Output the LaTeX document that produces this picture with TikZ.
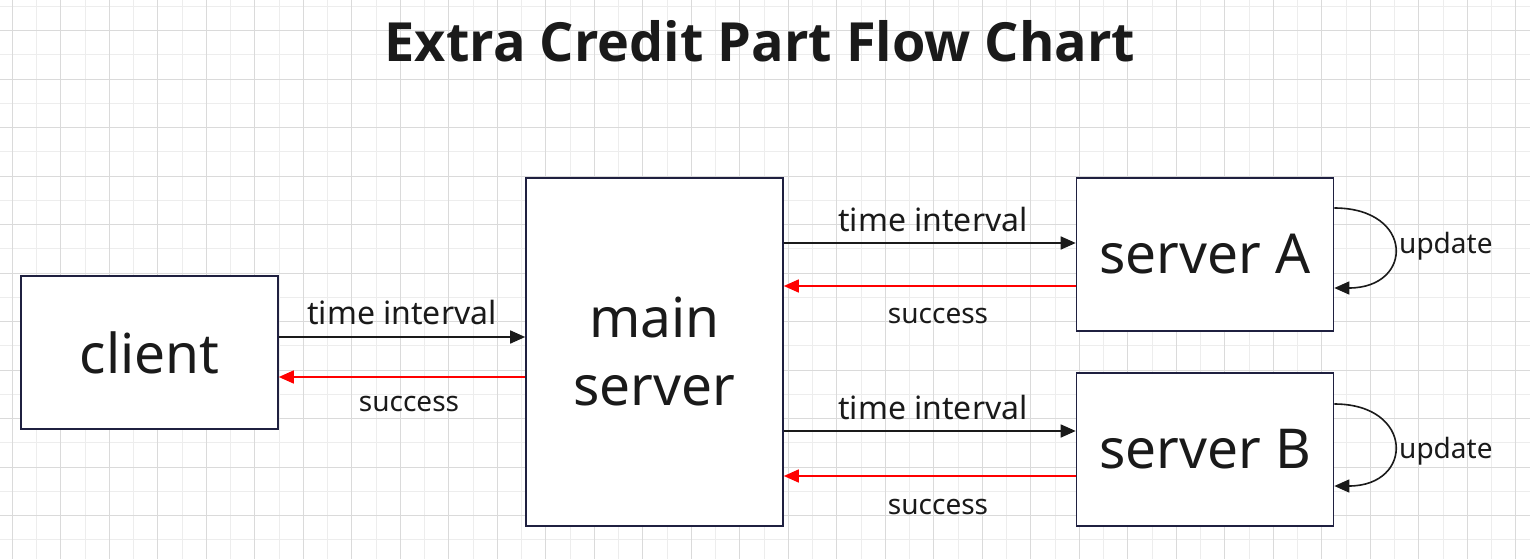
\documentclass[tikz,border=0pt]{standalone}
\usepackage{fontspec}
\setmainfont{Noto Sans}
\newfontfamily\titlefont{Open Sans}
\usetikzlibrary{positioning,arrows.meta}

\definecolor{boxedge}{HTML}{1F2040}
\definecolor{inkblack}{HTML}{1A1A1A}
\definecolor{gridminor}{HTML}{EDEDED}
\definecolor{gridmajor}{HTML}{DADADA}

\tikzset{
    srvbox/.style={rectangle, draw=boxedge, fill=white, line width=1.6pt, inner sep=0pt, align=center, text=inkblack, font=\fontsize{55}{68}\selectfont},
    reqarrow/.style={-{Triangle[length=15pt, width=13pt]}, line width=1.6pt, inkblack},
    ackarrow/.style={-{Triangle[length=15pt, width=13pt]}, line width=1.6pt, red},
    biglabel/.style={anchor=base, inner sep=0pt, text=inkblack, font=\fontsize{32}{36}\selectfont},
    smalllabel/.style={anchor=base, inner sep=0pt, text=inkblack, font=\fontsize{28}{32}\selectfont}
}

\begin{document}
\begin{tikzpicture}[x=1pt, y=-1pt]
        \def\boxw{257}
        \def\boxh{153}

        \useasboundingbox (0, 0) rectangle (1530, 559);
        \fill[white] (0, 0) rectangle (1530, 559);

        % background grid
        \foreach \k in {0,...,62}
            \draw[gridminor, line width=1pt] ({12.3+24.25*\k}, 0) -- ({12.3+24.25*\k}, 559);
        \foreach \k in {0,...,22}
            \draw[gridminor, line width=1pt] (0, {6.3+24.25*\k}) -- (1530, {6.3+24.25*\k});
        \foreach \k in {0,2,...,62}
            \draw[gridmajor, line width=1pt] ({12.3+24.25*\k}, 0) -- ({12.3+24.25*\k}, 559);
        \foreach \k in {1,3,...,21}
            \draw[gridmajor, line width=1pt] (0, {6.3+24.25*\k}) -- (1530, {6.3+24.25*\k});

        \node[anchor=base, inner sep=0pt, text=inkblack, font=\titlefont\fontsize{54}{60}\selectfont\bfseries] (title) at (760, 62) {Extra Credit Part Flow Chart};

        \node[srvbox, minimum width=\boxw, minimum height=\boxh] (client) at (149.5, 352.5) {client};
        \node[srvbox, minimum width=\boxw, minimum height=348] (main) at (654.5, 352) {main\\server};
        \node[srvbox, minimum width=\boxw, minimum height=\boxh] (srvA) at (1205, 254.5) {server A};
        \node[srvbox, minimum width=\boxw, minimum height=\boxh] (srvB) at (1205, 449.5) {server B};

        % arrow ends on the box sides
        \coordinate (cReq) at ([yshift=15.5pt]client.east);
        \coordinate (cAck) at ([yshift=-24.5pt]client.east);
        \coordinate (aReq) at ([yshift=11.5pt]srvA.west);
        \coordinate (aAck) at ([yshift=-31.5pt]srvA.west);
        \coordinate (bReq) at ([yshift=18.5pt]srvB.west);
        \coordinate (bAck) at ([yshift=-26.5pt]srvB.west);

        % client <-> main server
        \draw[reqarrow] (cReq) -- (main.west |- cReq);
        \draw[ackarrow] (main.west |- cAck) -- (cAck);
        \node[biglabel] (reqC) at (402, 324) {time interval};
        \node[smalllabel] (ackC) at (409, 411.5) {success};

        % main server <-> server A
        \draw[reqarrow] (main.east |- aReq) -- (aReq);
        \draw[ackarrow] (aAck) -- (main.east |- aAck);
        \node[biglabel] (reqA) at (933, 231.5) {time interval};
        \node[smalllabel] (ackA) at (938, 323) {success};

        % main server <-> server B
        \draw[reqarrow] (main.east |- bReq) -- (bReq);
        \draw[ackarrow] (bAck) -- (main.east |- bAck);
        \node[biglabel] (reqB) at (933, 419.5) {time interval};
        \node[smalllabel] (ackB) at (938, 514) {success};

        % self updates
        \draw[reqarrow] ([yshift=46.5pt]srvA.east) .. controls +(80, 0) and +(80, 0) .. ([yshift=-33.5pt]srvA.east);
        \node[smalllabel, anchor=base west] (updA) at (1399, 253) {update};
        \draw[reqarrow] ([yshift=45.5pt]srvB.east) .. controls +(80, 0) and +(80, 0) .. ([yshift=-36.5pt]srvB.east);
        \node[smalllabel, anchor=base west] (updB) at (1399, 458) {update};
\end{tikzpicture}
\end{document}
